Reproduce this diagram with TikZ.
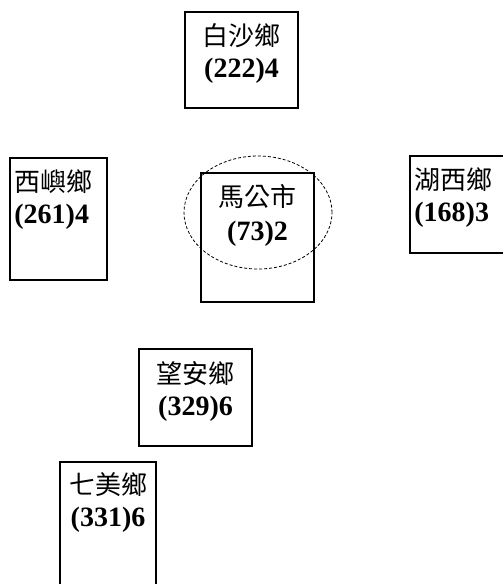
\documentclass[tikz,border=0pt]{standalone}
\usepackage{fontspec}
\setmainfont{Liberation Serif}
\newfontfamily\cjk{Noto Sans CJK TC}
\usetikzlibrary{positioning,shapes.geometric}

\begin{document}
\begin{tikzpicture}[x=1pt,y=-1pt]
\tikzset{town/.style =
		{shape = rectangle,
		draw,
		line width = 1.6pt,
		color = black},
	townname/.style =
		{inner sep = 0pt,
		font = \cjk\fontsize{26}{30}\selectfont},
	townnum/.style =
		{inner sep = 0pt,
		font = \bfseries\fontsize{28}{32}\selectfont},
	core/.style =
		{shape = ellipse,
		draw,
		densely dashed,
		line width = 0.8pt}}
	\useasboundingbox (0,0) rectangle (503,584);
	\clip (0,0) rectangle (503,584);

	% boxes
	\node[town, minimum width=113pt, minimum height=96pt] (baisha) at (241.5,60) {};
	\node[town, minimum width=97pt, minimum height=122pt] (xiyu) at (58.5,219) {};
	\node[town, minimum width=113pt, minimum height=129pt] (magong) at (257.5,237.5) {};
	\node[town, minimum width=110pt, minimum height=97pt] (huxi) at (465,204.5) {};
	\node[town, minimum width=113pt, minimum height=97pt] (wangan) at (195.5,397.5) {};
	\node[town, minimum width=96pt, minimum height=140pt] (qimei) at (108,532) {};
	\node[core, minimum width=148pt, minimum height=113pt] (center) at (258,212.5) {};

	% labels
	\node[townname, below=12pt of baisha.north] (baisha-name) {白沙鄉};
	\node[townnum, below=10pt of baisha-name] (baisha-num) {(222)4};
	\node[townname, below right=12pt and 5pt of xiyu.north west] (xiyu-name) {西嶼鄉};
	\node[townnum, below=10pt of xiyu-name.south west, anchor=north west] (xiyu-num) {(261)4};
	\node[townname, below=12pt of magong.north] (magong-name) {馬公市};
	\node[townnum, below=12pt of magong-name] (magong-num) {(73)2};
	\node[townname, below right=12pt and 5pt of huxi.north west] (huxi-name) {湖西鄉};
	\node[townnum, below=10pt of huxi-name.south west, anchor=north west] (huxi-num) {(168)3};
	\node[townname, below=13pt of wangan.north] (wangan-name) {望安鄉};
	\node[townnum, below=10pt of wangan-name] (wangan-num) {(329)6};
	\node[townname, below=11pt of qimei.north] (qimei-name) {七美鄉};
	\node[townnum, below=10pt of qimei-name] (qimei-num) {(331)6};
\end{tikzpicture}
\end{document}
